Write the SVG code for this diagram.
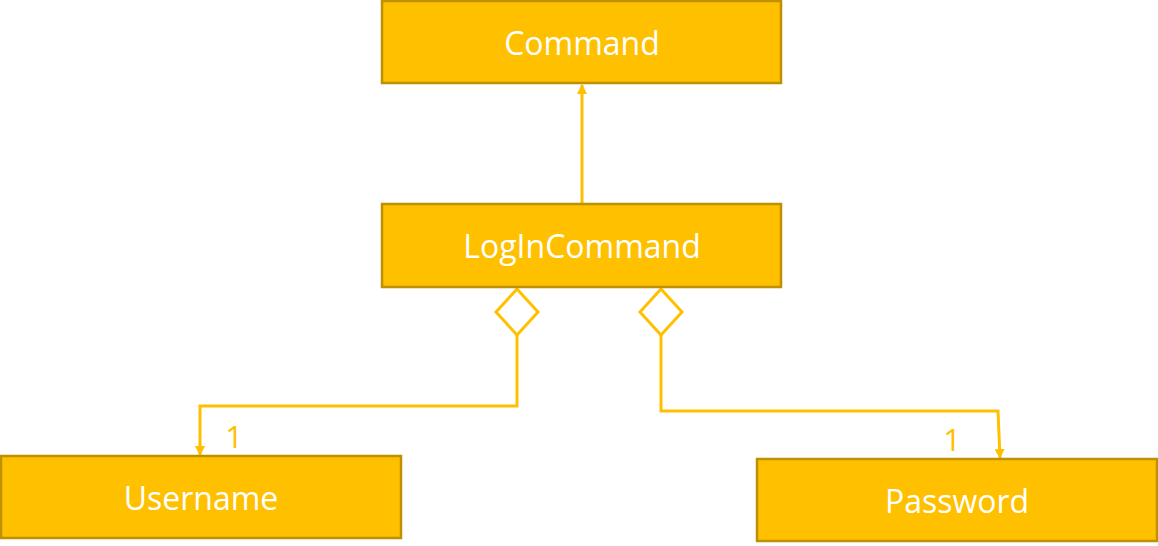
<svg xmlns="http://www.w3.org/2000/svg" width="1158" height="546" viewBox="0 0 1158 546">
<style>
.box{fill:#FFC000;stroke:#BF9000;stroke-width:2.5}
.lbl{font-family:"Open Sans","Liberation Sans",sans-serif;font-size:32px;fill:#FFFFFF;text-anchor:middle}
.con{fill:none;stroke:#FFC000;stroke-width:3}
.mult{font-family:"Open Sans","Liberation Sans",sans-serif;font-size:31px;fill:#FFC000;text-anchor:middle}
</style>
<defs>
<marker id="arr" markerWidth="10" markerHeight="10" refX="9" refY="5" orient="auto" markerUnits="userSpaceOnUse">
<path d="M0,0 L10,5 L0,10 z" fill="#FFC000"/>
</marker>
</defs>
<g id="connectors">
<line class="con" x1="582" y1="204" x2="582" y2="85" marker-end="url(#arr)"/>
<polygon class="con" points="517,289 538,312 517,335 496,312"/>
<polyline class="con" points="517,335 517,406 200,406 200,455" marker-end="url(#arr)"/>
<polygon class="con" points="661,289 682,312 661,335 640,312"/>
<polyline class="con" points="661,335 661,411 998,411 1000,458" marker-end="url(#arr)"/>
<text class="mult" x="234" y="448">1</text>
<text class="mult" x="952" y="451">1</text>
</g>
<g id="command">
<rect class="box" x="382" y="1" width="399" height="82"/>
<text class="lbl" x="582" y="55">Command</text>
</g>
<g id="logincommand">
<rect class="box" x="382" y="204" width="399" height="83"/>
<text class="lbl" x="582" y="258">LogInCommand</text>
</g>
<g id="username">
<rect class="box" x="1" y="456" width="400" height="82"/>
<text class="lbl" x="201" y="510">Username</text>
</g>
<g id="password">
<rect class="box" x="757" y="459" width="400" height="82"/>
<text class="lbl" x="957" y="513">Password</text>
</g>
</svg>
